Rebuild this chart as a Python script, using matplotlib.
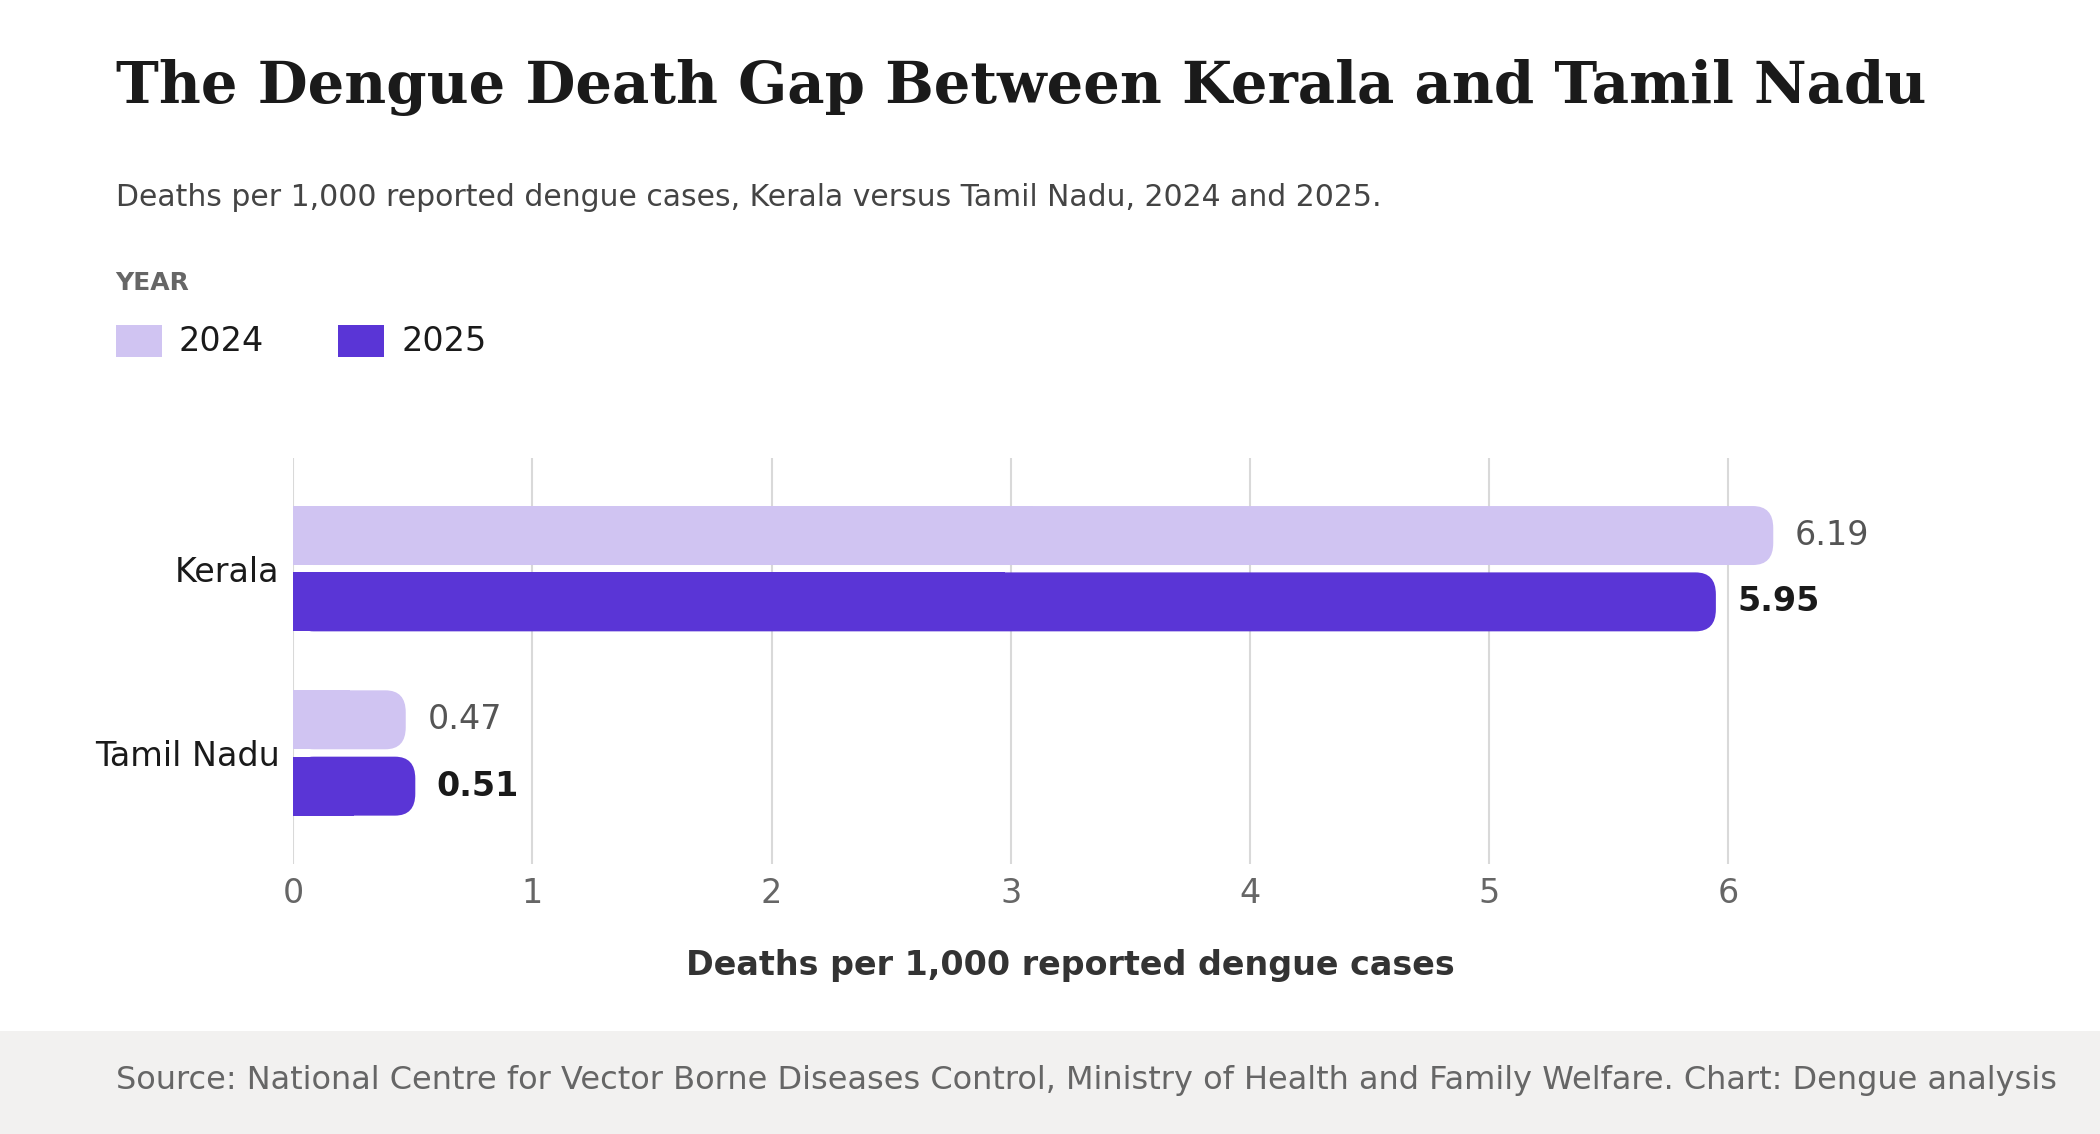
import matplotlib
matplotlib.use("Agg")
import matplotlib.pyplot as plt
from matplotlib.patches import FancyBboxPatch, Rectangle

plt.rcParams['font.family'] = ['DejaVu Sans']

states = ["Kerala", "Tamil Nadu"]
years = ["2024", "2025"]
v2024 = [6.19, 0.47]
v2025 = [5.95, 0.51]
xticks = [0, 1, 2, 3, 4, 5, 6]

c24, c25 = "#d0c4f2", "#5a35d6"
fig = plt.figure(figsize=(21, 11.34), dpi=100)
fig.patch.set_facecolor("white")
ax = fig.add_axes([0.1397, 0.2385, 0.74, 0.3575])
ax.set_xlim(0, 6.5)
ax.set_ylim(1.6, -0.6)

h = 0.32
off = 0.18
rx = 0.085
asp = 1.4
def rbar(y, v, col):
    p = FancyBboxPatch((0, y - h/2), v, h, boxstyle=f"round,pad=0,rounding_size={rx}",
                       mutation_aspect=asp, fc=col, ec="none", zorder=3)
    ax.add_patch(p)
    ax.add_patch(Rectangle((0, y - h/2), v/2, h, fc=col, ec="none", zorder=3))

for i in range(len(states)):
    rbar(i - off, v2024[i], c24)
    rbar(i + off, v2025[i], c25)
    ax.text(v2024[i] + 0.09, i - off, f"{v2024[i]:.2f}", va="center", ha="left",
            fontsize=24, color="#555555")
    ax.text(v2025[i] + 0.09, i + off, f"{v2025[i]:.2f}", va="center", ha="left",
            fontsize=24, color="#1a1a1a", fontweight="bold")

ax.set_yticks(range(len(states)))
ax.set_yticklabels(states, fontsize=24, color="#1a1a1a")
ax.set_xticks(xticks)
ax.set_xticklabels([str(t) for t in xticks], fontsize=24, color="#666666")
ax.tick_params(length=0, pad=10)
ax.grid(axis="x", color="#d9d9d9", lw=1.5, zorder=0)
for s in ax.spines.values():
    s.set_visible(False)
ax.set_xlabel("Deaths per 1,000 reported dengue cases", fontsize=24, fontweight="bold",
              color="#333333", labelpad=28)

fig.text(0.055, 0.923, "The Dengue Death Gap Between Kerala and Tamil Nadu", family="DejaVu Serif",
         fontweight="bold", fontsize=41.5, color="#1a1a1a", va="center")
fig.text(0.055, 0.826, "Deaths per 1,000 reported dengue cases, Kerala versus Tamil Nadu, 2024 and 2025.",
         fontsize=21.5, color="#444444", va="center")
fig.text(0.055, 0.75, "YEAR", fontsize=18, fontweight="bold", color="#666666", va="center")
for x0, c, lab in [(0.055, c24, years[0]), (0.161, c25, years[1])]:
    fig.patches.append(Rectangle((x0, 0.685), 0.022, 0.028, transform=fig.transFigure,
                                 fc=c, ec="none"))
    fig.text(x0 + 0.03, 0.699, lab, fontsize=24, color="#1a1a1a", va="center")

fig.patches.append(Rectangle((0, 0), 1, 0.091, transform=fig.transFigure, fc="#f2f1f0", ec="none"))
fig.text(0.055, 0.0475, "Source: National Centre for Vector Borne Diseases Control, Ministry of Health and Family Welfare. Chart: Dengue analysis",
         fontsize=23, color="#666666", va="center")

fig.savefig("out.png", dpi=100)
